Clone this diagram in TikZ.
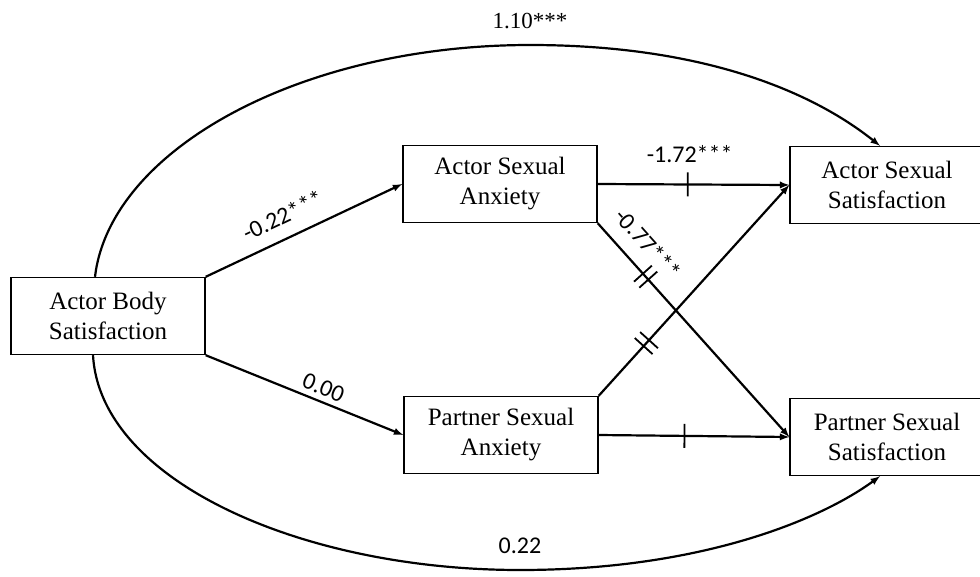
\documentclass[tikz,border=0pt]{standalone}
\usepackage{fontspec}
\setmainfont{Liberation Serif}
\newfontfamily\coeffont{Carlito}
\usetikzlibrary{decorations.markings}

\begin{document}
\begin{tikzpicture}[x=1pt,y=-1pt,>=latex,
    box/.style={draw,line width=1.4pt,minimum width=194pt,minimum height=77pt,
      inner sep=0pt,align=center,font=\fontsize{25}{30}\selectfont},
    path/.style={->,line width=2.2pt},
    coef/.style={inner sep=1pt,font=\coeffont\fontsize{24}{27}\selectfont},
    onetick/.style={postaction={decorate},decoration={markings,
      mark=at position #1 with {\draw[-,line width=1.8pt] (0,-12pt) -- (0,12pt);}}},
    twotick/.style={postaction={decorate},decoration={markings,
      mark=at position #1 with {\draw[-,line width=1.8pt]
        (-4pt,-12pt) -- (-4pt,12pt) (4pt,-12pt) -- (4pt,12pt);}}}]
    \useasboundingbox (0,0) rectangle (980,576);
    % variables
    \node[box] (abs) at (108,316) {Actor Body\\Satisfaction};
    \node[box] (asa) at (500,184) {Actor Sexual\\Anxiety};
    \node[box] (psa) at (501,435) {Partner Sexual\\Anxiety};
    \node[box] (ass) at (887,185) {Actor Sexual\\Satisfaction};
    \node[box] (pss) at (887,437) {Partner Sexual\\Satisfaction};
    % a paths
    \draw[path] (abs.north east) --
      node[coef,above=12pt,sloped,pos=0.44] {-0.22***} (asa.west);
    \draw[path] (abs.south east) --
      node[coef,above=4pt,sloped,pos=0.57] {0.00} (psa.west);
    % b paths
    \draw[path,onetick=0.47] (asa.east) --
      node[coef,above=20pt,pos=0.48] {-1.72***} (ass.west);
    \draw[path,twotick=0.25] (asa.south east) --
      node[coef,above=13pt,sloped,pos=0.17] {-0.77***} (pss.west);
    \draw[path,twotick=0.25] (psa.north east) -- (ass.west);
    \draw[path,onetick=0.45] (psa.east) -- (pss.west);
    % c paths
    \draw[path] ([xshift=-13pt]abs.north)
      .. controls (110,150) and (300,45) .. (530,45)
      node[above=12pt,font=\fontsize{23}{26}\selectfont] (top) {1.10***}
      .. controls (700,45) and (810,90) .. ([xshift=-7pt]ass.north);
    \draw[path] ([xshift=-15pt]abs.south)
      .. controls (100,480) and (300,570) .. (520,570)
      node[above=14pt,coef] (bot) {0.22}
      .. controls (700,570) and (820,520) .. ([xshift=-7pt]pss.south);
  \end{tikzpicture}
\end{document}
